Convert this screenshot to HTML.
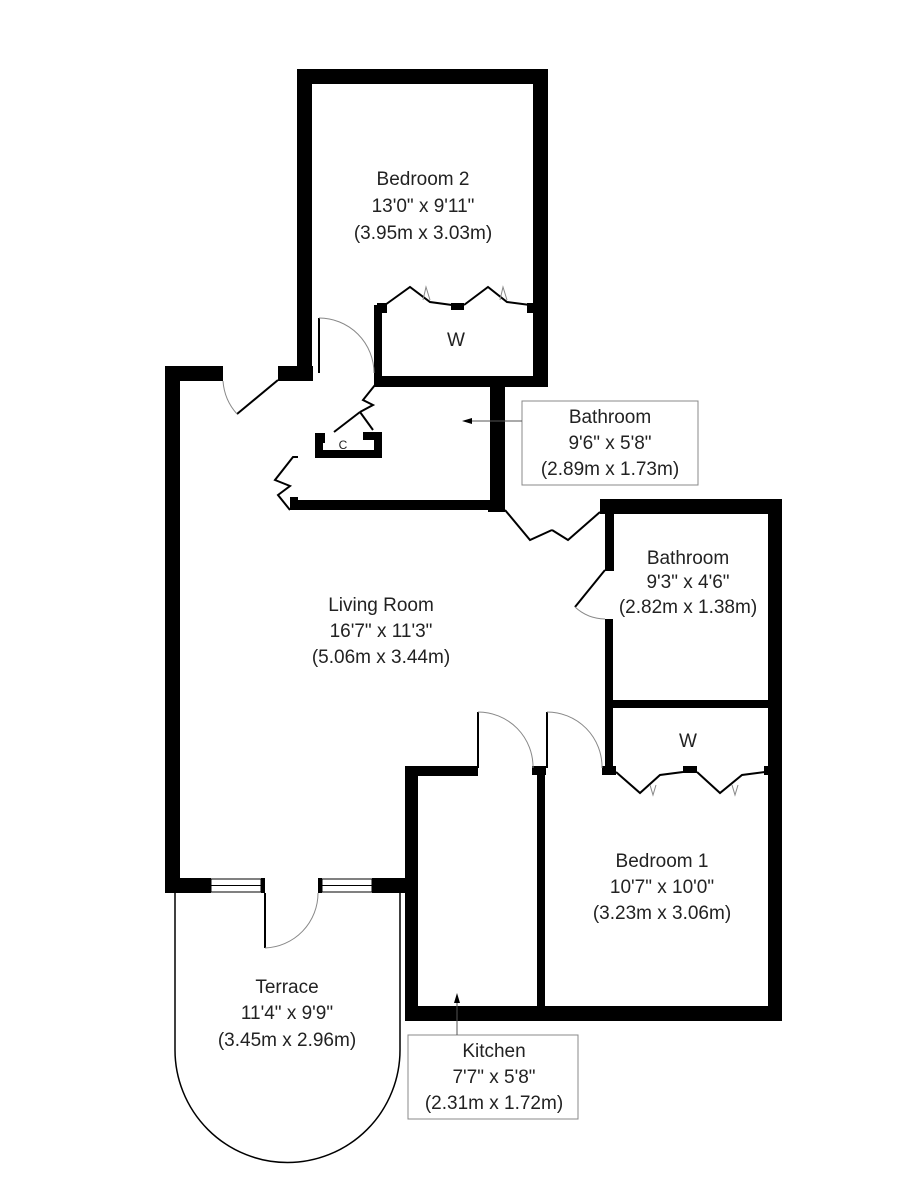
<!DOCTYPE html>
<html><head><style>
html,body{margin:0;padding:0;background:#fff;}
svg{display:block}
text{font-family:"Liberation Sans",Arial,sans-serif;font-size:19px;fill:#222;text-anchor:middle}
</style></head><body>
<svg width="922" height="1200" viewBox="0 0 922 1200" xmlns="http://www.w3.org/2000/svg">
<g fill="#000">
<rect x="297" y="69" width="251" height="15"/>
<rect x="297" y="69" width="15" height="312"/>
<rect x="533" y="69" width="15" height="318"/>
<rect x="374" y="376" width="174" height="11"/>
<rect x="374" y="305" width="8" height="80"/>
<rect x="377" y="303" width="10" height="10"/>
<rect x="451" y="303" width="13" height="7"/>
<rect x="527" y="303" width="8" height="10"/>
<rect x="165" y="366" width="58" height="15"/>
<rect x="278" y="366" width="35" height="15"/>
<rect x="165" y="366" width="15" height="526"/>
<rect x="490" y="380" width="15" height="130"/>
<rect x="290" y="500" width="215" height="10"/>
<rect x="290" y="497" width="8" height="13"/>
<rect x="488" y="500" width="17" height="12"/>
<rect x="315" y="433" width="8" height="24"/>
<rect x="315" y="433" width="10" height="10"/>
<rect x="315" y="450" width="67" height="8"/>
<rect x="374" y="432" width="8" height="26"/>
<rect x="363" y="432" width="19" height="8"/>
<rect x="600" y="499" width="182" height="15"/>
<rect x="768" y="499" width="14" height="522"/>
<rect x="605" y="499" width="9" height="72"/>
<rect x="605" y="619" width="8" height="152"/>
<rect x="605" y="700" width="177" height="8"/>
<rect x="602" y="766" width="14" height="9"/>
<rect x="683" y="766" width="14" height="7"/>
<rect x="764" y="766" width="6" height="9"/>
<rect x="405" y="766" width="73" height="10"/>
<rect x="405" y="766" width="13" height="254"/>
<rect x="532" y="766" width="14" height="9"/>
<rect x="537" y="766" width="8" height="245"/>
<rect x="405" y="1006" width="377" height="15"/>
<rect x="165" y="878" width="46" height="15"/>
<rect x="261" y="878" width="4" height="15"/>
<rect x="318" y="878" width="4" height="15"/>
<rect x="372" y="878" width="46" height="15"/>
</g>
<g fill="none" stroke="#000" stroke-width="1">
<rect x="211" y="879" width="50" height="13"/>
<line x1="211" y1="885.5" x2="261" y2="885.5"/>
<rect x="322" y="879" width="50" height="13"/>
<line x1="322" y1="885.5" x2="372" y2="885.5"/>
<path d="M175 893 V1050 A112.5 112.5 0 0 0 400 1050 V893" stroke-width="1.5"/>
</g>
<g fill="none" stroke="#000" stroke-width="2">
<line x1="278" y1="380" x2="237" y2="414"/>
<line x1="319" y1="318" x2="319" y2="373"/>
<line x1="265" y1="893" x2="265" y2="948"/>
<line x1="478" y1="712" x2="478" y2="768"/>
<line x1="547" y1="712" x2="547" y2="768"/>
<line x1="605" y1="570" x2="575" y2="607"/>
<polyline points="385,305 410,287 430,302 452,305"/>
<polyline points="464,305 488,287 507,302 530,305"/>
<polyline points="616,772 640,793 660,775 683,772"/>
<polyline points="697,772 720,793 742,775 765,772"/>
<polyline points="375,385 363,400 373,405 360,412"/>
<polyline points="360,412 334,432"/>
<polyline points="360,412 373,430"/>
<polyline points="290,510 278,495 290,486 275,480 293,457 298,457"/>
<polyline points="505,510 530,540 552,530"/>
<polyline points="552,530 568,540 600,512"/>
</g>
<g fill="none" stroke="#888" stroke-width="1">
<path d="M223 381 A55 55 0 0 0 237 414"/>
<path d="M319 318 A55 55 0 0 1 374 373"/>
<path d="M265 948 A55 55 0 0 0 318 893"/>
<path d="M478 712 A55 55 0 0 1 533 768"/>
<path d="M547 712 A55 55 0 0 1 602 768"/>
<path d="M575 607 A45 45 0 0 0 605 619"/>
<path d="M423 300 L426 287 L430 300 M500 300 L503 287 L507 300"/>
<path d="M650 785 L653 795 L656 785 M732 785 L735 795 L738 785"/>
</g>
<rect x="522" y="401" width="176" height="84" fill="none" stroke="#888" stroke-width="1"/>
<line x1="522" y1="421" x2="470" y2="421" stroke="#555" stroke-width="1"/>
<path d="M462 421 L472 418 L472 424 Z" fill="#000"/>
<rect x="408" y="1035" width="170" height="84" fill="none" stroke="#888" stroke-width="1"/>
<line x1="457" y1="1035" x2="457" y2="1000" stroke="#555" stroke-width="1"/>
<path d="M457 993 L454 1003 L460 1003 Z" fill="#000"/>
<text x="423" y="185">Bedroom 2</text>
<text x="423" y="212">13'0" x 9'11"</text>
<text x="423" y="239">(3.95m x 3.03m)</text>
<text x="456" y="346">W</text>
<text x="343" y="449" style="font-size:12px">C</text>
<text x="610" y="423">Bathroom</text>
<text x="610" y="449">9'6" x 5'8"</text>
<text x="610" y="475">(2.89m x 1.73m)</text>
<text x="688" y="564">Bathroom</text>
<text x="688" y="588">9'3" x 4'6"</text>
<text x="688" y="613">(2.82m x 1.38m)</text>
<text x="688" y="747">W</text>
<text x="381" y="611">Living Room</text>
<text x="381" y="637">16'7" x 11'3"</text>
<text x="381" y="663">(5.06m x 3.44m)</text>
<text x="662" y="867">Bedroom 1</text>
<text x="662" y="893">10'7" x 10'0"</text>
<text x="662" y="919">(3.23m x 3.06m)</text>
<text x="287" y="993">Terrace</text>
<text x="287" y="1019">11'4" x 9'9"</text>
<text x="287" y="1046">(3.45m x 2.96m)</text>
<text x="494" y="1057">Kitchen</text>
<text x="494" y="1083">7'7" x 5'8"</text>
<text x="494" y="1109">(2.31m x 1.72m)</text>
</svg>
</body></html>
